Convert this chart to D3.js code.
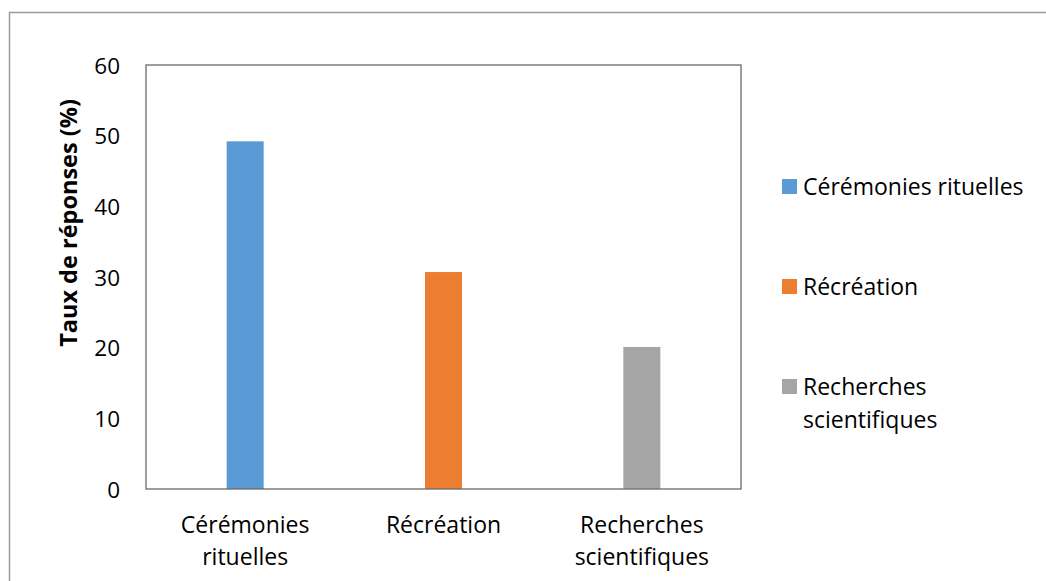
<!DOCTYPE html>
<html>
<head>
<meta charset="utf-8">
<script src="https://cdn.jsdelivr.net/npm/d3@7"></script>
<style>
  html, body { margin: 0; padding: 0; background: #fff; }
  svg { display: block; font-family: "Open Sans", Lato, sans-serif; }
</style>
</head>
<body>
<svg id="chart" width="1046" height="581"></svg>
<script>
// Usage categories (each line of a label is one array entry)
const categories = ["Cérémonies rituelles", "Récréation", "Recherches scientifiques"];
const categoryLines = [["Cérémonies", "rituelles"], ["Récréation"], ["Recherches", "scientifiques"]];
const legendLines = [["Cérémonies rituelles"], ["Récréation"], ["Recherches", "scientifiques"]];
// Share of responses (%)
const values = [49.2, 30.7, 20.1];
const colors = ["#5b9bd5", "#ed7d31", "#a5a5a5"];
const yTicks = [0, 10, 20, 30, 40, 50, 60];
const yTitle = "Taux de réponses (%)";

const FONT = "'Open Sans', Lato, sans-serif";
const svg = d3.select("#chart");
const plot = { left: 146, top: 65, right: 741, bottom: 489 };

// Outer chart frame (runs off the right and bottom edges)
svg.append("path")
  .attr("d", "M9.5,1000 V12.5 H1100")
  .attr("fill", "none")
  .attr("stroke", "#9a9a9a")
  .attr("stroke-width", 1.5);

const x = d3.scaleBand()
  .domain(categories)
  .range([plot.left, plot.right])
  .paddingInner(0)
  .paddingOuter(0);

const y = d3.scaleLinear()
  .domain([0, 60])
  .range([plot.bottom, plot.top]);

const barW = 37;

// Bars
svg.append("g").selectAll("rect")
  .data(categories)
  .enter().append("rect")
  .attr("x", (d) => x(d) + x.bandwidth() / 2 - barW / 2)
  .attr("y", (d, i) => y(values[i]))
  .attr("width", barW)
  .attr("height", (d, i) => y(0) - y(values[i]))
  .attr("fill", (d, i) => colors[i]);

// Plot-area frame
svg.append("rect")
  .attr("x", plot.left)
  .attr("y", plot.top)
  .attr("width", plot.right - plot.left)
  .attr("height", plot.bottom - plot.top)
  .attr("fill", "none")
  .attr("stroke", "#6b6b6b")
  .attr("stroke-width", 1.3);

// Y axis labels
const yAxis = d3.axisLeft(y).tickValues(yTicks).tickSize(0).tickPadding(26);
const yg = svg.append("g")
  .attr("transform", `translate(${plot.left},0)`)
  .call(yAxis);
yg.select(".domain").remove();
yg.selectAll("text")
  .attr("font-family", FONT)
  .attr("font-size", 22.5)
  .attr("fill", "#000")
  .attr("dy", "0.36em");

// Y axis title
svg.append("text")
  .attr("transform", "translate(77,223) rotate(-90)")
  .attr("text-anchor", "middle")
  .attr("font-size", 23.5)
  .attr("font-weight", "bold")
  .attr("fill", "#000")
  .text(yTitle);

// X axis category labels
const xg = svg.append("g");
categories.forEach((c, i) => {
  const t = xg.append("text")
    .attr("x", x(c) + x.bandwidth() / 2)
    .attr("y", 525)
    .attr("text-anchor", "middle")
    .attr("font-size", 23)
    .attr("fill", "#000");
  categoryLines[i].forEach((line, j) => {
    t.append("tspan")
      .attr("x", x(c) + x.bandwidth() / 2)
      .attr("dy", j === 0 ? "0.36em" : 32)
      .text(line);
  });
});

// Legend
const legendY = [187, 287, 387];
const lg = svg.append("g");
categories.forEach((c, i) => {
  lg.append("rect")
    .attr("x", 782)
    .attr("y", legendY[i] - 8)
    .attr("width", 15)
    .attr("height", 15)
    .attr("fill", colors[i]);
  const t = lg.append("text")
    .attr("x", 803)
    .attr("y", legendY[i])
    .attr("font-size", 23)
    .attr("fill", "#000");
  legendLines[i].forEach((line, j) => {
    t.append("tspan")
      .attr("x", 803)
      .attr("dy", j === 0 ? "0.36em" : 33)
      .text(line);
  });
});
</script>
</body>
</html>
